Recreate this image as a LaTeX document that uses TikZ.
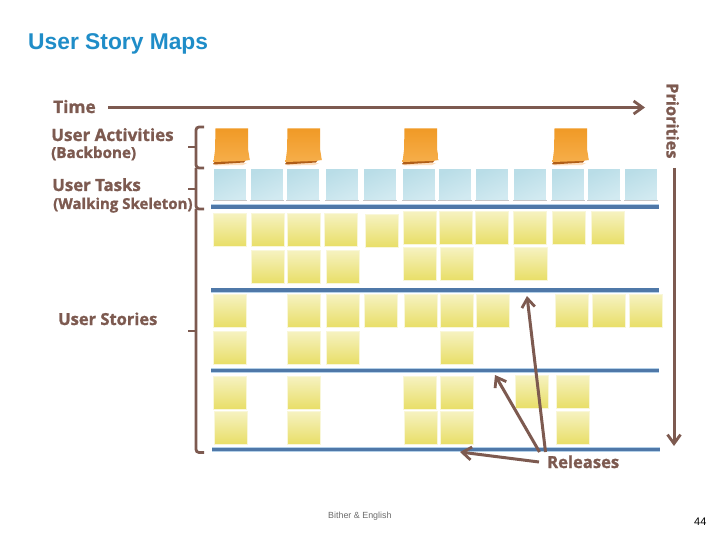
\documentclass[tikz,border=0pt]{standalone}
\usepackage{fontspec}
\setmainfont{Liberation Sans}
\newfontfamily\labfont[BoldFeatures={FakeBold=1.2}]{Open Sans}
\usetikzlibrary{arrows.meta}
\definecolor{brownline}{HTML}{7D5A50}
\definecolor{releaseblue}{HTML}{4F78A8}
\definecolor{releaseglow}{HTML}{B4D0E8}
\definecolor{titleblue}{HTML}{1F8DC8}
\definecolor{yTop}{HTML}{F6F2C0}
\definecolor{yBot}{HTML}{E8DE66}
\definecolor{bTop}{HTML}{B9DDE7}
\definecolor{bBot}{HTML}{D2EAF1}
\definecolor{oTop}{HTML}{F09A26}
\definecolor{oBot}{HTML}{F6AE4A}
\definecolor{oDark}{HTML}{B05E18}
\tikzset{
  x=1pt,y=-1pt,
  yellownote/.style={anchor=north west,inner sep=0pt,minimum width=33pt,minimum height=33pt,top color=yTop,bottom color=yBot,draw=yBot!25!white,line width=0.7pt},
  bluenote/.style={anchor=north west,inner sep=0pt,minimum width=33pt,minimum height=31.5pt,shading=axis,top color=bTop,bottom color=bBot,shading angle=25,draw=white,line width=0.7pt},
  noteedge/.style={draw=gray!45,line width=1pt},
  orangenote/.style={top color=oTop,bottom color=oBot},
  orangeshadow/.style={fill=oDark},
  relglow/.style={draw=releaseglow,line width=5pt},
  relline/.style={draw=releaseblue,line width=3.4pt},
  brownarrow/.style={draw=brownline,line width=3pt,-{Straight Barb[length=9pt,width=13pt,line width=2.8pt]}},
  brace/.style={draw=brownline,line width=2.8pt,rounded corners=3pt},
  lab/.style={anchor=base west,inner sep=0pt,text=brownline},
}
\begin{document}
\begin{tikzpicture}
\useasboundingbox (0,0) rectangle (720,540);
\fill[white] (0,0) rectangle (720,540);
% title
\node[anchor=base west,inner sep=0pt,text=titleblue,font=\bfseries\fontsize{22.8}{26}\selectfont] (title) at (28,50) {User Story Maps};
% orange notes
\foreach \x [count=\i] in {213,285,402,552}{
  \fill[orange!25!white] (\x+1,163.5) -- (\x+34,163) -- (\x+30,165) -- (\x+2,165.5) -- cycle;
  \fill[orangeshadow] (\x,164) -- (\x+3,160) -- (\x+34,158) -- (\x+31,162.5) -- (\x+1,164.5) -- cycle;
  \path[orangenote] (\x+2.5,128.5) -- (\x+35,128.5) -- (\x+35.2,150) -- (\x+36.8,160) -- (\x+30,161) -- (\x+0.5,162) -- (\x+2,150) -- cycle;
}
% blue notes
\foreach \x [count=\i] in {213,249.5,286,325,363,402,438,475,513,551,587,624}{
  \node[bluenote] (b\i) at (\x+0.3,168.3) {};
  \draw[noteedge] (b\i.south west) -- (b\i.south east);
}
% yellow notes
\foreach \x/\y [count=\i] in {
 213/213,251/213,287/213,324/213,365/214,403/211,438.5/211,474.5/211,513/211,552/211,590.5/211,
 250.5/250,287/250,326/250,403/247,440/247,514/247,
 213/294,287/294,326/294,364/294,404/294,440/294,476/294,555/294,592/294,629/294,
 212.5/331,287/331,326/331,440/331,
 213/376,287/376,403/376,440/376,514.5/375,555.5/375,
 213.5/411,287/411,404/411,440/411,555.5/411}{
  \node[yellownote] (n\i) at (\x+0.3,\y+0.3) {};
}
% release lines
\foreach \y/\xa/\xb in {207/211/659,290/211/659,370.5/211/659,449.5/212/660}{
  \draw[relglow] (\xa,\y) -- (\xb,\y);
  \draw[relline] (\xa,\y) -- (\xb,\y);
}
% braces
\draw[brace] (204,127) -- (196,127) -- (196,168) -- (204,168);
\draw[brace] (196,147) -- (188,147);
\draw[brace] (196,168) -- (196,209) -- (204,209);
\draw[brace] (196,189) -- (188,189);
\draw[brace] (196,209) -- (196,452.5) -- (204,452.5);
\draw[brace] (196,331) -- (188,331);
% labels
\node[lab,font=\labfont\bfseries\fontsize{17.3}{19}\selectfont] (time) at (53,113) {Time};
\node[lab,font=\labfont\bfseries\fontsize{17}{19}\selectfont] (act) at (51,141) {User Activities};
\node[lab,font=\labfont\bfseries\fontsize{15.2}{17}\selectfont] (bb) at (51,158) {(Backbone)};
\node[lab,font=\labfont\bfseries\fontsize{16.8}{19}\selectfont] (tasks) at (52,191) {User Tasks};
\node[lab,font=\labfont\bfseries\fontsize{15}{17}\selectfont] (ws) at (53,209) {(Walking Skeleton)};
\node[lab,font=\labfont\bfseries\fontsize{16.5}{19}\selectfont] (stories) at (58,325) {User Stories};
\node[lab,font=\labfont\bfseries\fontsize{16.6}{19}\selectfont] (rel) at (547,468) {Releases};
\node[lab,font=\labfont\bfseries\fontsize{16.4}{19}\selectfont,rotate=-90] (prio) at (666.5,83) {Priorities};
% arrows
\coordinate (timeend) at (645,107.5);
\coordinate (prioStart) at (674,168);
\coordinate (prioEnd) at (674,446);
\coordinate (timeStart) at (108,107.5);
\coordinate (r1) at (460,452);
\coordinate (r2) at (495,375);
\coordinate (r3) at (527,296);
\coordinate (s1) at (539,462);
\coordinate (s2) at (539.5,452);
\coordinate (s3) at (545.5,452);
\draw[brownarrow] (timeStart) -- (timeend);
\draw[brownarrow] (prioStart) -- (prioEnd);
\draw[brownarrow] (s1) -- (r1);
\draw[brownarrow] (s2) -- (r2);
\draw[brownarrow] (s3) -- (r3);
% footer
\node[anchor=base west,inner sep=0pt,text=gray!85!black,font=\fontsize{8.9}{10}\selectfont] (foot) at (328,518) {Bither \& English};
\node[anchor=base west,inner sep=0pt,text=black,font=\fontsize{11}{12}\selectfont] (page) at (694,525) {44};
\end{tikzpicture}
\end{document}
